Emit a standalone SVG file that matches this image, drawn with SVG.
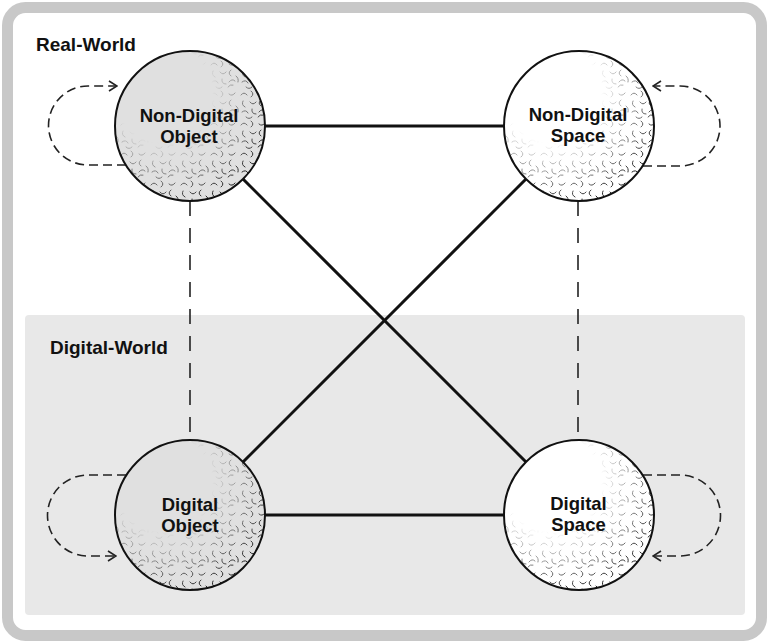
<svg xmlns="http://www.w3.org/2000/svg" width="769" height="643" viewBox="0 0 769 643">
<style>
.lbl{font-family:"Liberation Sans",Arial,sans-serif;font-weight:bold;font-size:19px;fill:#111}
.nt{font-family:"Liberation Sans",Arial,sans-serif;font-weight:bold;font-size:18.5px;fill:#111;text-anchor:middle}
.ring{stroke:#111;stroke-width:2}
.solid{stroke:#111;stroke-width:3;fill:none}
.vdash{stroke:#222;stroke-width:1.6;stroke-dasharray:15 12;fill:none}
.loop{stroke:#222;stroke-width:1.6;stroke-dasharray:9 5;fill:none}
</style>
<defs>
<pattern id="tex" width="30" height="30" patternUnits="userSpaceOnUse">
<g fill="none" stroke="#1a1a1a" stroke-width="1" stroke-linecap="round">
<path d="M1,5 q3,-4 6,0"/>
<path d="M11,1 q4,3 0,6"/>
<path d="M19,4 q3,3 6,-1"/>
<path d="M3,11 q-2,4 2,6"/>
<path d="M10,12 q3,4 6,0"/>
<path d="M21,10 q-4,3 0,6"/>
<path d="M26,16 q3,2 2,6"/>
<path d="M2,22 q4,-3 6,1"/>
<path d="M12,19 q-1,5 4,5"/>
<path d="M19,22 q3,-4 6,-1"/>
<path d="M6,27 q3,3 6,0"/>
<path d="M18,27 q2,-3 5,-2"/>
</g>
</pattern>
<radialGradient id="fade" cx="0.35" cy="0.32" r="0.72" fx="0.3" fy="0.26">
<stop offset="0" stop-color="#000"/>
<stop offset="0.45" stop-color="#000"/>
<stop offset="0.75" stop-color="#888"/>
<stop offset="1" stop-color="#fff"/>
</radialGradient>
<mask id="m1" maskContentUnits="objectBoundingBox"><rect x="0" y="0" width="1" height="1" fill="url(#fade)"/></mask>
<marker id="arr" viewBox="0 0 10 12" refX="9" refY="6" markerWidth="10" markerHeight="12" markerUnits="userSpaceOnUse" orient="auto">
<path d="M1,1 L9,6 L1,11" fill="none" stroke="#222" stroke-width="1.6"/>
</marker>
</defs>
<rect x="7.5" y="7.5" width="754" height="628" rx="18" fill="#fff" stroke="#c8c8c8" stroke-width="11"/>
<rect x="25" y="315" width="720" height="300" rx="4" fill="#e8e8e8"/>
<text class="lbl" x="36" y="51">Real-World</text>
<text class="lbl" x="50" y="354">Digital-World</text>
<g id="connectors">
<line class="solid" x1="265" y1="126" x2="504" y2="126"/>
<line class="solid" x1="265" y1="515" x2="504" y2="515"/>
<line class="solid" x1="243" y1="179" x2="526" y2="462"/>
<line class="solid" x1="526" y1="179" x2="243" y2="462"/>
<line class="vdash" x1="190" y1="201" x2="190" y2="440"/>
<line class="vdash" x1="578" y1="201" x2="578" y2="440"/>
<path class="loop" d="M126,165 H88 A39.5,39.5 0 0 1 88,86 H117" marker-end="url(#arr)"/>
<path class="loop" d="M126,475 H88 A40.5,40.5 0 0 0 88,556 H116" marker-end="url(#arr)"/>
<path class="loop" d="M643,166 H680 A40,40 0 0 0 680,86 H653" marker-end="url(#arr)"/>
<path class="loop" d="M643,475 H680 A40.5,40.5 0 0 1 680,556 H653" marker-end="url(#arr)"/>
</g>
<g id="non-digital-object">
<circle cx="190" cy="126" r="75" fill="#e0e0e0"/>
<circle cx="190" cy="126" r="75" fill="url(#tex)" mask="url(#m1)"/>
<circle class="ring" cx="190" cy="126" r="75" fill="none"/>
<text class="nt" x="189" y="121.5">Non-Digital</text>
<text class="nt" x="189" y="142.5">Object</text>
</g>
<g id="non-digital-space">
<circle cx="579" cy="126" r="75" fill="#fff"/>
<circle cx="579" cy="126" r="75" fill="url(#tex)" mask="url(#m1)"/>
<circle class="ring" cx="579" cy="126" r="75" fill="none"/>
<text class="nt" x="578" y="121">Non-Digital</text>
<text class="nt" x="578" y="142">Space</text>
</g>
<g id="digital-object">
<circle cx="190" cy="515" r="75" fill="#e0e0e0"/>
<circle cx="190" cy="515" r="75" fill="url(#tex)" mask="url(#m1)"/>
<circle class="ring" cx="190" cy="515" r="75" fill="none"/>
<text class="nt" x="190" y="510.5">Digital</text>
<text class="nt" x="190" y="531.5">Object</text>
</g>
<g id="digital-space">
<circle cx="579" cy="515" r="75" fill="#fff"/>
<circle cx="579" cy="515" r="75" fill="url(#tex)" mask="url(#m1)"/>
<circle class="ring" cx="579" cy="515" r="75" fill="none"/>
<text class="nt" x="578.5" y="510">Digital</text>
<text class="nt" x="578.5" y="531">Space</text>
</g>
</svg>
